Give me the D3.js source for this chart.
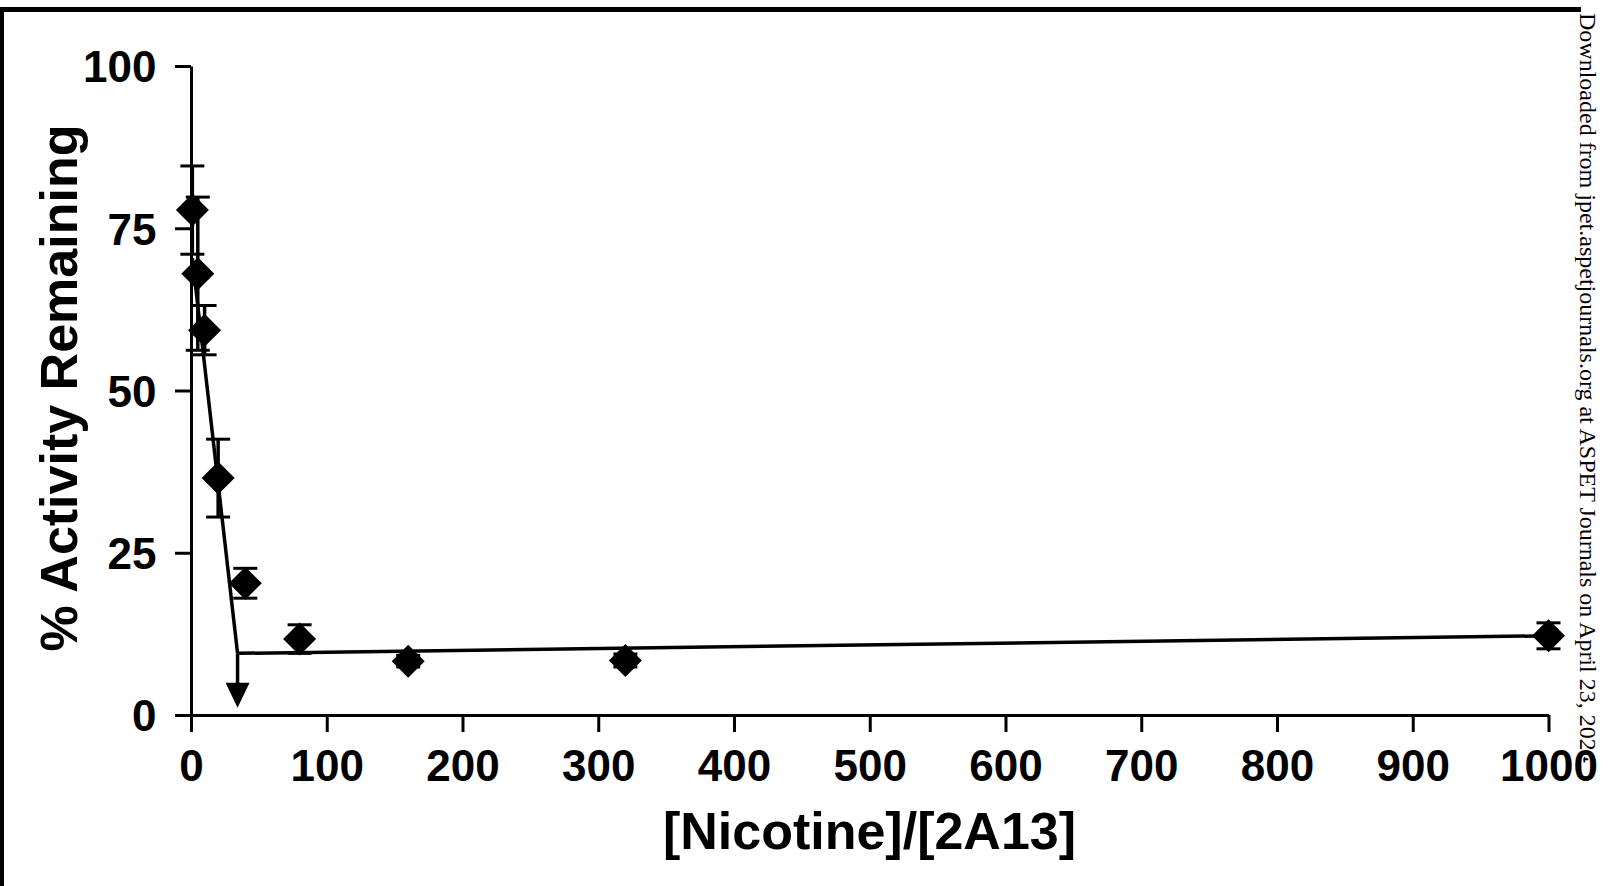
<!DOCTYPE html>
<html>
<head>
<meta charset="utf-8">
<script src="https://cdn.jsdelivr.net/npm/d3@7"></script>
<style>
  html, body { margin: 0; padding: 0; background: #fff; }
  svg { display: block; }
</style>
</head>
<body>
<svg id="chart" width="1620" height="886"></svg>
<script>
// ---- data ----
const ratio    = [1, 5, 10, 20, 40, 80, 160, 320, 1000];
const activity = [77.8, 68.0, 59.3, 36.5, 20.3, 11.7, 8.3, 8.4, 12.2];
const errSD    = [6.8, 11.8, 3.8, 6.0, 2.3, 2.2, 0.9, 1.0, 2.0];

// fitted lines
const steepX   = [1, 34.3];
const steepY   = [70.4, 9.5];
const plateauX = [34.3, 1000];
const plateauY = [9.5, 12.2];
const arrowX   = 34.3;
const arrowY   = [9.5, 1.1];

const xTicks = [0, 100, 200, 300, 400, 500, 600, 700, 800, 900, 1000];
const yTicks = [0, 25, 50, 75, 100];

const xTitle = "[Nicotine]/[2A13]";
const yTitle = "% Activity Remaining";
const watermark = "Downloaded from jpet.aspetjournals.org at ASPET Journals on April 23, 2024";

// ---- drawing ----
const svg = d3.select("#chart");
const W = 1620, H = 886;
const x = d3.scaleLinear().domain([0, 1000]).range([191, 1548.5]);
const y = d3.scaleLinear().domain([0, 100]).range([715, 66]);
const sansBold = "'Liberation Sans', Arial, Helvetica, sans-serif";

svg.append("rect").attr("width", W).attr("height", H).attr("fill", "#fff");

// watermark on the right
svg.append("text")
  .attr("transform", "translate(1580,13) rotate(90)")
  .attr("font-family", "'Liberation Serif', 'Times New Roman', serif")
  .attr("font-size", 24)
  .attr("fill", "#000")
  .text(watermark);

// frame edges
svg.append("rect").attr("x", 0).attr("y", 7).attr("width", 1581).attr("height", 5).attr("fill", "#000");
svg.append("rect").attr("x", 0).attr("y", 7).attr("width", 4).attr("height", H - 7).attr("fill", "#000");

// axes
const xAxis = d3.axisBottom(x).tickValues(xTicks).tickSize(17).tickSizeOuter(0).tickFormat(d3.format("d"));
const gx = svg.append("g").attr("transform", `translate(0,${y(0)})`).call(xAxis);
gx.select(".domain").attr("stroke", "#000").attr("stroke-width", 3);
gx.selectAll(".tick line").attr("stroke", "#000").attr("stroke-width", 3);
gx.selectAll(".tick text")
  .attr("y", 65.5).attr("dy", null)
  .attr("font-family", sansBold).attr("font-weight", "bold").attr("font-size", 44)
  .attr("fill", "#000")
  .attr("paint-order", "stroke").attr("stroke", "#fff").attr("stroke-width", 3);

const yAxis = d3.axisLeft(y).tickValues(yTicks).tickSize(16).tickSizeOuter(0).tickFormat(d3.format("d"));
const gy = svg.append("g").attr("transform", `translate(${x(0)},0)`).call(yAxis);
gy.select(".domain").attr("stroke", "#000").attr("stroke-width", 3);
gy.selectAll(".tick line").attr("stroke", "#000").attr("stroke-width", 3);
gy.selectAll(".tick text")
  .attr("x", -34.5).attr("dy", "0.36em")
  .attr("font-family", sansBold).attr("font-weight", "bold").attr("font-size", 44)
  .attr("fill", "#000");
svg.selectAll(".domain").attr("fill", "none");

// axis titles
svg.append("text")
  .attr("x", 869.5).attr("y", 849)
  .attr("text-anchor", "middle")
  .attr("font-family", sansBold).attr("font-weight", "bold").attr("font-size", 52)
  .attr("fill", "#000")
  .text(xTitle);
svg.append("text")
  .attr("transform", "translate(77,388) rotate(-90)")
  .attr("text-anchor", "middle")
  .attr("font-family", sansBold).attr("font-weight", "bold").attr("font-size", 52)
  .attr("fill", "#000")
  .text(yTitle);

// fitted lines
const line = d3.line().x(d => x(d[0])).y(d => y(d[1]));
svg.append("path")
  .attr("d", line(steepX.map((v, i) => [v, steepY[i]])))
  .attr("fill", "none").attr("stroke", "#000").attr("stroke-width", 3.5);
svg.append("path")
  .attr("d", line(plateauX.map((v, i) => [v, plateauY[i]])))
  .attr("fill", "none").attr("stroke", "#000").attr("stroke-width", 3.5);

// arrow
const headLen = 25, headHalf = 12;
const ax = x(arrowX), ayTop = y(arrowY[0]), ayTip = y(arrowY[1]);
svg.append("line")
  .attr("x1", ax).attr("x2", ax).attr("y1", ayTop).attr("y2", ayTip - headLen + 2)
  .attr("stroke", "#000").attr("stroke-width", 3.5);
svg.append("path")
  .attr("d", `M${ax - headHalf},${ayTip - headLen} L${ax + headHalf},${ayTip - headLen} L${ax},${ayTip} Z`)
  .attr("fill", "#000");

// error bars
const data = ratio.map((r, i) => ({ r, v: activity[i], e: errSD[i] }));
const capHalf = 12;
const eb = svg.append("g").attr("stroke", "#000").attr("stroke-width", 3.5);
data.forEach(d => {
  const cx = x(d.r);
  eb.append("line").attr("x1", cx).attr("x2", cx).attr("y1", y(d.v + d.e)).attr("y2", y(d.v - d.e));
  eb.append("line").attr("x1", cx - capHalf).attr("x2", cx + capHalf).attr("y1", y(d.v + d.e)).attr("y2", y(d.v + d.e)).attr("stroke-width", 3);
  eb.append("line").attr("x1", cx - capHalf).attr("x2", cx + capHalf).attr("y1", y(d.v - d.e)).attr("y2", y(d.v - d.e)).attr("stroke-width", 3);
});

// diamond markers
const dh = 16.5;
svg.append("g").selectAll("path").data(data).join("path")
  .attr("d", d => {
    const cx = x(d.r), cy = y(d.v);
    return `M${cx},${cy - dh} L${cx + dh},${cy} L${cx},${cy + dh} L${cx - dh},${cy} Z`;
  })
  .attr("fill", "#000");
</script>
</body>
</html>
